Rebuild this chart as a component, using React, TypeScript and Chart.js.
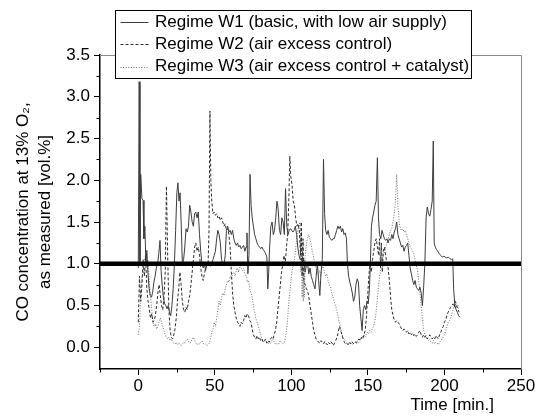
import React, { useEffect, useRef } from 'react';
import { Chart, registerables } from 'chart.js';

Chart.register(...registerables);

// ---------- data: [time in min, CO concentration vol.%] ----------
const w1Series: number[][] = [
  [0,0.95],[0.6,3.18],[1.1,1.0],[1.6,2.07],[2.4,1.78],[3.1,1.76],[3.7,1.3],[4.3,1.45],[5.0,1.0],[5.6,1.16],
  [6.3,0.9],[7.0,0.72],[7.8,0.62],[8.6,0.6],[9.4,0.66],[10.2,0.78],[11.0,0.85],[11.8,0.95],[12.6,1.0],[13.4,1.12],
  [14.2,1.28],[14.9,0.92],[15.6,0.75],[16.4,0.6],[17.2,0.52],[18.0,0.5],[18.8,0.46],[19.6,0.5],[20.4,0.42],[21.2,0.38],
  [22.0,0.5],[22.8,0.7],[23.6,1.0],[24.4,1.4],[25.2,1.85],[25.9,1.97],[26.6,1.75],[27.3,1.85],[28.0,1.5],[28.8,1.0],
  [29.6,1.05],[30.4,1.2],[31.2,1.42],[32.0,1.38],[32.8,1.45],[33.6,1.7],[34.4,1.62],[35.2,1.5],[36.0,1.45],[36.8,1.6],
  [37.6,1.62],[38.4,1.55],[39.2,1.62],[40.0,1.35],[40.8,1.15],[41.6,1.0],[42.4,0.95],[43.2,1.0],[44.0,0.92],[44.8,1.0],
  [45.6,0.98],[46.4,1.02],[47.2,0.97],[48.0,1.0],[48.8,1.05],[49.6,1.1],[50.4,1.15],[51.2,1.3],[52.0,1.4],[52.8,1.35],
  [53.6,1.25],[54.4,1.05],[55.2,1.0],[56.0,0.98],[56.8,1.1],[57.6,1.4],[58.4,1.45],[59.2,1.38],[60.0,1.4],[60.8,1.35],
  [61.6,1.4],[62.4,1.3],[63.2,1.25],[64.0,1.22],[64.8,1.25],[65.6,1.2],[66.4,1.22],[67.2,1.18],[68.0,1.2],[68.8,1.22],
  [69.6,1.15],[70.4,1.2],[71.0,1.37],[71.6,0.88],[72.3,1.1],[73.0,2.07],[73.7,1.7],[74.4,1.55],[75.2,1.45],[76.0,1.35],
  [76.8,1.3],[77.6,1.25],[78.4,1.22],[79.2,1.2],[80.0,1.18],[80.8,1.2],[81.6,1.17],[82.4,1.15],[83.2,1.12],[84.0,1.08],
  [84.6,0.7],[85.2,0.9],[85.8,1.2],[86.6,1.45],[87.4,1.5],[88.2,1.35],[89.0,1.4],[89.8,1.55],[90.6,1.75],[91.4,1.65],
  [92.2,1.4],[93.0,1.35],[93.8,1.55],[94.6,1.5],[95.4,1.35],[96.2,1.9],[97.0,1.45],[97.8,1.35],[98.6,1.4],[99.4,1.42],
  [100.2,1.4],[101.0,1.38],[101.8,1.4],[102.6,1.45],[103.4,1.35],[104.2,1.2],[105.0,1.1],[105.8,1.05],[106.6,1.07],[107.4,1.02],
  [108.2,1.05],[109.0,0.9],[109.8,0.98],[110.6,1.0],[111.4,0.88],[112.2,0.95],[113.0,0.85],[113.8,0.8],[114.6,0.75],[115.4,0.7],
  [116.2,0.85],[117.0,1.0],[117.8,0.8],[118.6,0.62],[119.4,0.9],[120.2,1.05],[121.0,2.25],[121.7,1.6],[122.4,1.4],[123.2,1.35],
  [124.0,1.4],[124.8,1.32],[125.6,1.3],[126.4,1.28],[127.2,1.3],[128.0,1.3],[128.8,1.35],[129.6,1.4],[130.4,1.45],[131.2,1.42],
  [132.0,1.45],[132.8,1.38],[133.6,1.42],[134.4,1.35],[135.2,1.37],[136.0,1.3],[136.6,1.0],[137.4,0.85],[138.2,0.78],[139.0,0.72],
  [139.8,0.65],[140.6,0.55],[141.4,0.6],[142.2,0.75],[143.0,0.82],[143.8,0.78],[144.6,0.5],[145.4,0.35],[146.2,0.2],[147.0,0.45],
  [147.8,0.5],[148.6,0.45],[149.4,0.55],[150.2,0.52],[151.0,0.7],[151.6,1.0],[152.3,1.45],[153.0,1.55],[153.8,1.62],[154.6,1.7],
  [155.4,1.75],[156.2,2.27],[156.9,1.55],[157.6,1.35],[158.4,1.3],[159.2,1.4],[160.0,1.35],[160.8,1.3],[161.6,1.28],[162.4,1.3],
  [163.2,1.25],[164.0,1.3],[164.8,1.28],[165.6,1.35],[166.4,1.3],[167.2,1.38],[168.0,1.42],[168.8,1.5],[169.6,1.35],[170.4,1.3],
  [171.2,1.25],[172.0,1.2],[172.8,1.22],[173.6,1.15],[174.4,1.2],[175.2,1.22],[176.0,1.25],[176.8,1.1],[177.6,0.95],[178.4,0.88],
  [179.2,0.8],[180.0,0.75],[180.8,0.8],[181.6,0.72],[182.4,0.7],[183.2,0.68],[184.0,0.72],[184.8,0.65],[185.6,0.5],[186.4,0.72],
  [187.2,1.0],[188.0,1.55],[188.8,1.68],[189.6,1.6],[190.4,1.57],[191.2,1.65],[192.0,1.75],[192.7,2.47],[193.3,1.25],[194.0,1.2],
  [194.8,1.17],[195.6,1.15],[196.6,1.12],[197.6,1.1],[198.6,1.08],[199.6,1.09],[200.6,1.08],[201.6,1.07],[202.6,1.08],[203.6,1.06],
  [204.6,1.05],[205.4,1.06],[206.0,0.7],[206.8,0.5],[207.6,0.45],[208.4,0.42],[209.2,0.38],[210.0,0.36],
];

const w2Series: number[][] = [
  [0,0.3],[0.8,0.85],[1.6,0.55],[2.4,0.75],[3.2,1.05],[4.0,0.85],[4.8,1.1],[5.6,0.7],[6.4,0.55],[7.2,0.45],
  [8.0,0.35],[8.8,0.4],[9.6,0.3],[10.4,0.32],[11.2,0.38],[12.0,0.5],[12.8,0.65],[13.6,0.75],[14.4,0.62],[15.2,0.5],
  [16.0,0.45],[16.8,0.6],[17.6,0.9],[18.4,1.93],[19.2,1.1],[20.0,0.45],[20.8,0.2],[21.6,0.12],[22.4,0.1],[23.2,0.15],
  [24.0,0.22],[24.8,0.35],[25.6,0.55],[26.4,0.7],[27.2,0.9],[28.0,0.75],[28.8,0.55],[29.6,0.45],[30.4,0.42],[31.2,0.48],
  [32.0,0.45],[32.8,0.55],[33.6,0.62],[34.4,0.75],[35.2,0.9],[36.0,1.05],[36.8,1.2],[37.6,1.25],[38.4,1.15],[39.2,1.2],
  [40.0,1.1],[40.8,0.95],[41.6,0.85],[42.4,0.8],[43.2,0.88],[44.0,0.95],[44.8,0.98],[45.6,1.0],[46.2,1.4],[46.8,2.83],
  [47.4,2.0],[48.0,1.75],[48.8,1.6],[49.6,1.62],[50.4,1.58],[51.2,1.6],[52.0,1.55],[52.8,1.57],[53.6,1.52],[54.4,1.55],
  [55.2,1.5],[56.0,1.45],[56.8,1.48],[57.6,1.4],[58.4,1.42],[59.2,1.35],[60.0,1.2],[60.8,0.9],[61.6,0.65],[62.4,0.5],
  [63.2,0.42],[64.0,0.35],[64.8,0.3],[65.6,0.28],[66.4,0.25],[67.2,0.3],[68.0,0.28],[68.8,0.32],[69.6,0.38],[70.4,0.35],
  [71.2,0.4],[72.0,0.38],[72.8,0.32],[73.6,0.3],[74.4,0.22],[75.2,0.15],[76.0,0.12],[76.8,0.1],[77.6,0.14],[78.4,0.1],
  [79.2,0.12],[80.0,0.08],[80.8,0.1],[81.6,0.06],[82.4,0.08],[83.2,0.1],[84.0,0.05],[84.8,0.08],[85.6,0.06],[86.4,0.1],
  [87.2,0.12],[88.0,0.1],[88.8,0.15],[89.6,0.2],[90.4,0.3],[91.2,0.45],[92.0,0.6],[92.8,0.75],[93.6,0.9],[94.4,1.0],
  [95.2,1.1],[96.0,1.0],[96.8,1.2],[97.6,1.35],[98.4,1.8],[99.0,2.29],[99.6,2.05],[100.4,1.95],[101.2,1.75],[102.0,1.7],
  [102.8,1.55],[103.6,1.45],[104.4,1.48],[105.2,1.4],[106.0,1.1],[106.5,1.5],[107.0,0.85],[107.6,1.3],[108.2,0.8],[109.0,0.75],
  [109.8,0.7],[110.6,0.68],[111.4,0.6],[112.2,0.5],[113.0,0.4],[113.8,0.3],[114.6,0.2],[115.4,0.15],[116.2,0.1],[117.0,0.08],
  [117.8,0.06],[118.6,0.05],[119.4,0.08],[120.2,0.06],[121.0,0.04],[121.8,0.07],[122.6,0.05],[123.4,0.03],[124.2,0.06],[125.0,0.04],
  [125.8,0.07],[126.6,0.05],[127.4,0.02],[128.2,0.05],[129.0,0.08],[129.8,0.12],[130.6,0.18],[131.4,0.25],[132.2,0.2],[133.0,0.15],
  [133.8,0.1],[134.6,0.06],[135.4,0.04],[136.2,0.05],[137.0,0.03],[137.8,0.06],[138.6,0.04],[139.4,0.07],[140.2,0.05],[141.0,0.04],
  [141.8,0.06],[142.6,0.05],[143.4,0.08],[144.2,0.1],[145.0,0.08],[145.8,0.12],[146.6,0.1],[147.4,0.15],[148.2,0.2],[149.0,0.35],
  [149.8,0.6],[150.6,0.85],[151.4,1.0],[152.2,0.9],[153.0,1.05],[153.8,1.15],[154.6,1.25],[155.4,1.3],[156.2,1.2],[157.0,1.1],
  [157.6,1.3],[158.2,0.95],[158.8,1.25],[159.4,0.9],[160.0,1.15],[160.8,1.2],[161.6,1.1],[162.4,1.0],[163.2,0.95],[164.0,0.8],
  [164.8,0.6],[165.6,0.45],[166.4,0.38],[167.2,0.33],[168.0,0.3],[168.8,0.32],[169.6,0.3],[170.4,0.28],[171.2,0.25],[172.0,0.22],
  [172.8,0.2],[173.6,0.22],[174.4,0.2],[175.2,0.18],[176.0,0.2],[176.8,0.16],[177.6,0.18],[178.4,0.15],[179.2,0.17],[180.0,0.14],
  [180.8,0.16],[181.6,0.13],[182.4,0.15],[183.2,0.18],[184.0,0.2],[184.8,0.15],[185.6,0.12],[186.4,0.15],[187.2,0.12],[188.0,0.14],
  [188.8,0.1],[189.6,0.12],[190.4,0.15],[191.2,0.12],[192.0,0.1],[192.8,0.12],[193.6,0.1],[194.4,0.14],[195.2,0.12],[196.0,0.1],
  [196.8,0.15],[197.6,0.18],[198.4,0.22],[199.2,0.25],[200.0,0.3],[200.8,0.33],[201.6,0.38],[202.4,0.42],[203.2,0.45],[204.0,0.48],
  [204.8,0.5],[205.6,0.52],[206.4,0.48],[207.2,0.55],[208.0,0.5],[208.8,0.45],[209.6,0.42],
];

const w3Series: number[][] = [
  [0,0.15],[0.8,0.25],[1.6,0.6],[2.4,0.85],[3.2,0.9],[4.0,1.05],[4.8,1.1],[5.6,1.0],[6.4,1.05],[7.2,0.8],
  [8.0,0.6],[8.8,0.45],[9.6,0.3],[10.4,0.25],[11.2,0.28],[12.0,0.22],[12.8,0.25],[13.6,0.3],[14.4,0.35],[15.2,0.3],
  [16.0,0.25],[16.8,0.2],[17.6,0.15],[18.4,0.12],[19.2,0.1],[20.0,0.12],[20.8,0.08],[21.6,0.1],[22.4,0.06],[23.2,0.05],
  [24.0,0.04],[24.8,0.06],[25.6,0.03],[26.4,0.05],[27.2,0.04],[28.0,0.02],[28.8,0.04],[29.6,0.06],[30.4,0.05],[31.2,0.08],
  [32.0,0.1],[32.8,0.07],[33.6,0.05],[34.4,0.06],[35.2,0.1],[36.0,0.12],[36.8,0.08],[37.6,0.05],[38.4,0.03],[39.2,0.05],
  [40.0,0.04],[40.8,0.06],[41.6,0.08],[42.4,0.05],[43.2,0.03],[44.0,0.04],[44.8,0.02],[45.6,0.03],[46.4,0.05],[47.2,0.1],
  [48.0,0.18],[48.8,0.22],[49.6,0.3],[50.4,0.25],[51.2,0.35],[52.0,0.45],[52.8,0.55],[53.6,0.5],[54.4,0.6],[55.2,0.65],
  [56.0,0.62],[56.8,0.7],[57.6,0.75],[58.4,0.8],[59.2,0.78],[60.0,0.85],[60.8,0.82],[61.6,0.88],[62.4,0.9],[63.2,0.85],
  [64.0,0.92],[64.8,0.95],[65.6,0.9],[66.4,0.98],[67.2,0.95],[68.0,0.92],[68.8,0.95],[69.6,0.88],[70.4,0.85],[71.2,0.78],
  [72.0,0.8],[72.8,0.7],[73.6,0.65],[74.4,0.6],[75.2,0.5],[76.0,0.42],[76.8,0.35],[77.6,0.3],[78.4,0.25],[79.2,0.2],
  [80.0,0.15],[80.8,0.1],[81.6,0.08],[82.4,0.06],[83.2,0.08],[84.0,0.05],[84.8,0.04],[85.6,0.06],[86.4,0.05],[87.2,0.08],
  [88.0,0.1],[88.8,0.06],[89.6,0.04],[90.4,0.05],[91.2,0.03],[92.0,0.05],[92.8,0.08],[93.6,0.06],[94.4,0.04],[95.2,0.05],
  [96.0,0.1],[96.8,0.2],[97.6,0.35],[98.4,0.55],[99.2,0.7],[100.0,0.85],[100.8,0.95],[101.6,1.0],[102.4,1.1],[103.2,1.25],
  [104.0,1.35],[104.8,1.45],[105.6,1.5],[106.2,0.9],[106.6,1.4],[107.0,0.6],[107.4,1.2],[107.8,0.55],[108.2,1.0],[108.6,0.6],
  [109.0,1.1],[109.6,1.2],[110.4,1.3],[111.2,1.35],[112.0,1.3],[112.8,1.25],[113.6,1.15],[114.4,1.1],[115.2,1.0],[116.0,0.95],
  [116.8,0.9],[117.6,0.88],[118.4,0.92],[119.2,0.85],[120.0,0.95],[120.8,1.0],[121.6,0.9],[122.4,0.85],[123.2,0.88],[124.0,0.8],
  [124.8,0.75],[125.6,0.72],[126.4,0.65],[127.2,0.6],[128.0,0.55],[128.8,0.5],[129.6,0.45],[130.4,0.38],[131.2,0.3],[132.0,0.25],
  [132.8,0.18],[133.6,0.12],[134.4,0.1],[135.2,0.08],[136.0,0.06],[136.8,0.05],[137.6,0.04],[138.4,0.06],[139.2,0.05],[140.0,0.03],
  [140.8,0.05],[141.6,0.06],[142.4,0.08],[143.2,0.06],[144.0,0.05],[144.8,0.08],[145.6,0.1],[146.4,0.12],[147.2,0.15],[148.0,0.12],
  [148.8,0.15],[149.6,0.18],[150.4,0.16],[151.2,0.2],[152.0,0.18],[152.8,0.22],[153.6,0.25],[154.4,0.3],[155.2,0.4],[156.0,0.55],
  [156.8,0.7],[157.6,0.85],[158.4,0.95],[159.2,1.05],[160.0,1.1],[160.8,1.15],[161.6,1.2],[162.4,1.25],[163.2,1.3],[164.0,1.35],
  [164.8,1.4],[165.6,1.42],[166.4,1.5],[167.2,1.6],[168.0,1.75],[168.8,2.07],[169.6,1.7],[170.4,1.5],[171.2,1.42],[172.0,1.4],
  [172.8,1.42],[173.6,1.38],[174.4,1.4],[175.2,1.35],[176.0,1.3],[176.8,1.25],[177.6,1.2],[178.4,1.18],[179.2,1.15],[180.0,1.12],
  [180.8,1.05],[181.6,0.98],[182.4,0.92],[183.2,0.8],[184.0,0.65],[184.8,0.5],[185.6,0.35],[186.4,0.2],[187.2,0.15],[188.0,0.12],
  [188.8,0.1],[189.6,0.08],[190.4,0.1],[191.2,0.06],[192.0,0.05],[192.8,0.08],[193.6,0.04],[194.4,0.06],[195.2,0.05],[196.0,0.03],
  [196.8,0.06],[197.6,0.08],[198.4,0.1],[199.2,0.12],[200.0,0.15],[200.8,0.2],[201.6,0.25],[202.4,0.3],[203.2,0.32],[204.0,0.35],
  [204.8,0.4],[205.6,0.45],[206.4,0.5],[207.2,0.52],[208.0,0.48],[208.8,0.5],[209.6,0.45],
];

const seriesLabels = [
  'Regime W1 (basic, with low air supply)',
  'Regime W2 (air excess control)',
  'Regime W3 (air excess control + catalyst)',
];
const thresholdValue = 1.0;
const xMin = -25;
const xMax = 250;
const yMin = -0.26;
const yMax = 3.5;
const xTickValues = [0, 50, 100, 150, 200, 250];
const xMinorTickValues = [-25, 25, 75, 125, 175, 225];
const yTickValues = [0, 0.5, 1.0, 1.5, 2.0, 2.5, 3.0, 3.5];
const yMinorTickValues = [0.25, 0.75, 1.25, 1.75, 2.25, 2.75, 3.25];
const yTitleLines = ['CO concentration at 13% O\u2082,', 'as measured [vol.%]'];
const xTitle = 'Time [min.]';

const FONT = "'Liberation Sans', Arial, Helvetica, sans-serif";
const seriesColors = ['#3c3c3c', '#2a2a2a', '#707070'];
const seriesDashes: number[][] = [[], [3, 2], [1, 1.6]];

const toXY = (s: number[][]) => s.map(([x, y]) => ({ x, y }));

const decorPlugin = {
  id: 'decor',
  afterDraw(chart: any) {
    const { ctx, chartArea: a, scales } = chart;
    ctx.save();
    // top / right frame
    ctx.strokeStyle = '#8a8a8a';
    ctx.lineWidth = 1;
    ctx.beginPath();
    ctx.moveTo(a.left, Math.round(a.top) + 0.5);
    ctx.lineTo(Math.round(a.right) + 0.5, Math.round(a.top) + 0.5);
    ctx.lineTo(Math.round(a.right) + 0.5, a.bottom);
    ctx.stroke();
    // minor ticks
    ctx.strokeStyle = '#000';
    ctx.beginPath();
    yMinorTickValues.forEach((v) => {
      const py = Math.round(scales.y.getPixelForValue(v)) + 0.5;
      ctx.moveTo(a.left - 3.5, py);
      ctx.lineTo(a.left, py);
    });
    xMinorTickValues.forEach((v) => {
      const px = Math.round(scales.x.getPixelForValue(v)) + 0.5;
      ctx.moveTo(px, a.bottom);
      ctx.lineTo(px, a.bottom + 3.5);
    });
    ctx.stroke();
    // x title
    ctx.fillStyle = '#000';
    ctx.font = `17px ${FONT}`;
    ctx.textAlign = 'right';
    ctx.textBaseline = 'middle';
    ctx.fillText(xTitle, a.right - 27, a.bottom + 36);
    // legend box
    const bx = a.left + 15.5;
    const by = 10.5;
    const bw = 356;
    const bh = 68;
    ctx.fillStyle = '#fff';
    ctx.fillRect(bx, by, bw, bh);
    ctx.strokeStyle = '#000';
    ctx.lineWidth = 1;
    ctx.strokeRect(bx, by, bw, bh);
    seriesLabels.forEach((label, i) => {
      const cy = by + 11.5 + i * 22.3;
      ctx.strokeStyle = seriesColors[i];
      ctx.setLineDash(seriesDashes[i]);
      ctx.beginPath();
      ctx.moveTo(bx + 5, Math.round(cy) + 0.5);
      ctx.lineTo(bx + 33, Math.round(cy) + 0.5);
      ctx.stroke();
      ctx.setLineDash([]);
      ctx.fillStyle = '#000';
      ctx.textAlign = 'left';
      ctx.fillText(label, bx + 39.5, cy);
    });
    ctx.restore();
  },
};

export default function App() {
  const canvasRef = useRef<HTMLCanvasElement | null>(null);

  useEffect(() => {
    const canvas = canvasRef.current;
    if (!canvas) return;
    const seriesList = [w1Series, w2Series, w3Series];
    const chart = new Chart(canvas, {
      type: 'line',
      data: {
        datasets: [
          {
            label: 'threshold',
            data: [{ x: xMin, y: thresholdValue }, { x: xMax, y: thresholdValue }],
            borderColor: '#000',
            borderWidth: 4.5,
            pointRadius: 0,
          },
          ...seriesList.map((s, i) => ({
            label: seriesLabels[i],
            data: toXY(s),
            borderColor: seriesColors[i],
            borderWidth: 1,
            borderDash: seriesDashes[i],
            pointRadius: 0,
            tension: 0,
          })),
        ],
      },
      options: {
        animation: false,
        responsive: true,
        maintainAspectRatio: false,
        parsing: true,
        layout: { padding: { left: 0, right: 24, top: 55, bottom: 0 } },
        plugins: { legend: { display: false }, tooltip: { enabled: false } },
        scales: {
          x: {
            type: 'linear',
            min: xMin,
            max: xMax,
            afterBuildTicks: (scale: any) => {
              scale.ticks = xTickValues.map((v) => ({ value: v }));
            },
            afterFit: (scale: any) => {
              scale.height = 50;
            },
            ticks: {
              color: '#000',
              font: { family: FONT, size: 17 },
              padding: 1,
              maxRotation: 0,
              autoSkip: false,
              callback: (v: any) => String(v),
            },
            grid: { drawOnChartArea: false, tickLength: 6, tickColor: '#000', tickWidth: 1 },
            border: { color: '#000', width: 1.5 },
          },
          y: {
            type: 'linear',
            min: yMin,
            max: yMax,
            afterBuildTicks: (scale: any) => {
              scale.ticks = yTickValues.map((v) => ({ value: v }));
            },
            afterFit: (scale: any) => {
              scale.width = 100;
            },
            ticks: {
              color: '#000',
              font: { family: FONT, size: 17 },
              padding: 4,
              autoSkip: false,
              callback: (v: any) => Number(v).toFixed(1),
            },
            grid: { drawOnChartArea: false, tickLength: 6, tickColor: '#000', tickWidth: 1 },
            border: { color: '#000', width: 1.5 },
            title: {
              display: true,
              text: yTitleLines,
              color: '#000',
              font: { family: FONT, size: 17, lineHeight: 1.25 },
              padding: { top: 13, bottom: 0 },
            },
          },
        },
      },
      plugins: [decorPlugin],
    } as any);
    return () => chart.destroy();
  }, []);

  return (
    <div style={{ position: 'absolute', left: 0, top: 0, width: 545, height: 419, background: '#fff' }}>
      <canvas ref={canvasRef} />
    </div>
  );
}
